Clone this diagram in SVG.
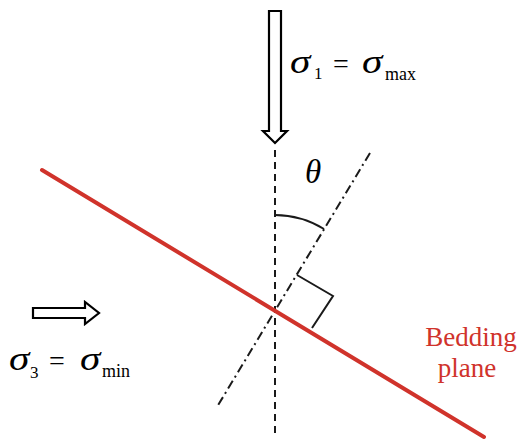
<svg xmlns="http://www.w3.org/2000/svg" width="520" height="441" viewBox="0 0 520 441">
<style>
.ser{font-family:"Liberation Serif","Times New Roman",serif;fill:#000}
.it{font-style:italic}
.red{fill:#d0332b}
.arrow{fill:#fff;stroke:#000;stroke-width:2.2;stroke-linejoin:miter}
.thin{fill:none;stroke:#1a1a1a;stroke-width:2}
</style>
<rect width="520" height="441" fill="#fff"/>
<g id="connectors">
  <line x1="275" y1="150" x2="275" y2="438" class="thin" stroke-dasharray="7,5"/>
  <line x1="370" y1="153" x2="217" y2="407" class="thin" stroke-width="1.8" stroke-dasharray="9,4,2,4"/>
  <path d="M275 215 A95 95 0 0 1 324 229" class="thin"/>
  <polyline points="297,275 333,296 312,328" class="thin"/>
</g>
<g id="bedding-plane">
  <line x1="42" y1="170" x2="484" y2="437" stroke="#d0332b" stroke-width="4" stroke-linecap="round"/>
  <text class="ser red" x="471" y="346" font-size="27" text-anchor="middle">Bedding</text>
  <text class="ser red" x="467" y="377" font-size="27" text-anchor="middle">plane</text>
</g>
<g id="sigma1">
  <polygon class="arrow" points="269,11 281,11 281,131 287,131 275,143 263,131 269,131"/>
  <text class="ser it" transform="translate(290,73) scale(1.25,1)" font-size="33">σ</text>
  <text class="ser" x="314" y="79" font-size="17">1</text>
  <text class="ser" x="333" y="73" font-size="28">=</text>
  <text class="ser it" transform="translate(362,73) scale(1.25,1)" font-size="33">σ</text>
  <text class="ser" x="385" y="80" font-size="18">max</text>
</g>
<g id="sigma3">
  <polygon class="arrow" points="33,308 85,308 85,302 99,313 85,324 85,318 33,318"/>
  <text class="ser it" transform="translate(9,370) scale(1.25,1)" font-size="33">σ</text>
  <text class="ser" x="30" y="378" font-size="17">3</text>
  <text class="ser" x="49" y="370" font-size="28">=</text>
  <text class="ser it" transform="translate(80,370) scale(1.25,1)" font-size="33">σ</text>
  <text class="ser" x="102" y="377" font-size="18">min</text>
</g>
<g id="theta">
  <text class="ser it" x="305" y="183" font-size="33">θ</text>
</g>
</svg>
